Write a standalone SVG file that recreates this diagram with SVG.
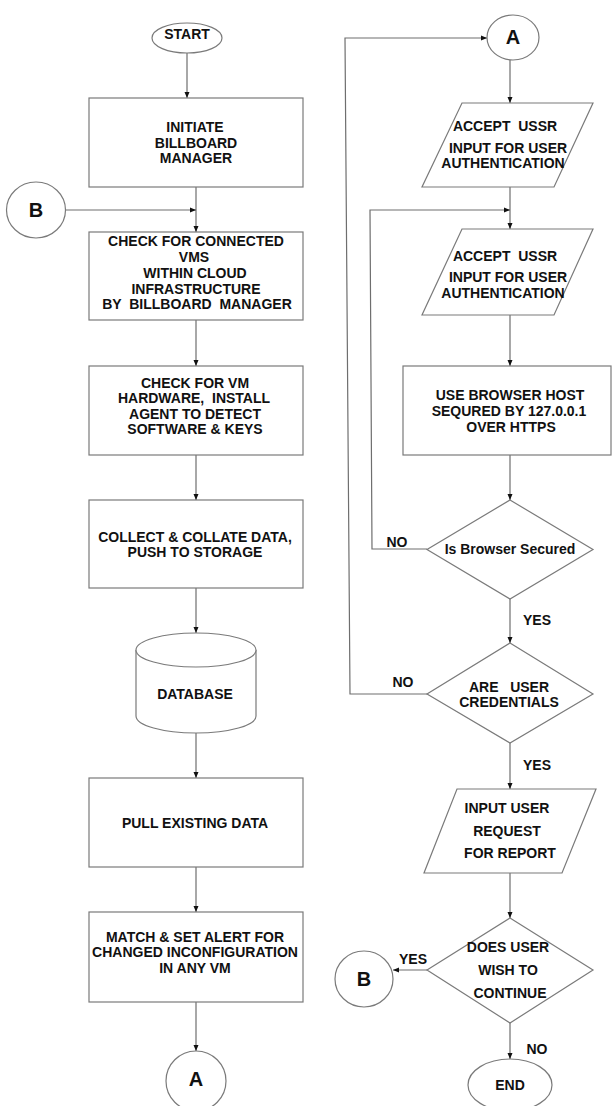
<svg xmlns="http://www.w3.org/2000/svg" width="612" height="1106" viewBox="0 0 612 1106" xml:space="preserve">
  <style>
    .shape { fill: #ffffff; stroke: #7a7a7a; stroke-width: 1.2; }
    .wire { fill: none; stroke: #6e6e6e; stroke-width: 1.2; }
    .t { font-family: "Liberation Sans", Arial, sans-serif; font-weight: bold; font-size: 14px; fill: #111111; text-anchor: middle; white-space: pre; }
    .big { font-size: 20px; }
  </style>
  <defs>
    <marker id="arrow" viewBox="0 0 6 6" refX="6" refY="3" markerWidth="6" markerHeight="6" orient="auto" markerUnits="userSpaceOnUse">
      <path d="M0,0.5 L6,3 L0,5.5 Z" fill="#111111"/>
    </marker>
  </defs>
  <rect width="612" height="1106" fill="#ffffff"/>

  <!-- connectors -->
  <g id="connectors">
    <line class="wire" x1="187" y1="53" x2="187" y2="98" marker-end="url(#arrow)"/>
    <line class="wire" x1="196" y1="187" x2="196" y2="232" marker-end="url(#arrow)"/>
    <line class="wire" x1="66" y1="210" x2="196" y2="210" marker-end="url(#arrow)"/>
    <line class="wire" x1="196" y1="320" x2="196" y2="366" marker-end="url(#arrow)"/>
    <line class="wire" x1="196" y1="455" x2="196" y2="500" marker-end="url(#arrow)"/>
    <line class="wire" x1="196" y1="588" x2="196" y2="633" marker-end="url(#arrow)"/>
    <line class="wire" x1="196" y1="733" x2="196" y2="778" marker-end="url(#arrow)"/>
    <line class="wire" x1="196" y1="867" x2="196" y2="912" marker-end="url(#arrow)"/>
    <line class="wire" x1="196" y1="1002" x2="196" y2="1051" marker-end="url(#arrow)"/>
    <line class="wire" x1="510" y1="60" x2="510" y2="103" marker-end="url(#arrow)"/>
    <line class="wire" x1="510" y1="187" x2="510" y2="229" marker-end="url(#arrow)"/>
    <polyline class="wire" points="427,549 372,549 370,210 510,210" marker-end="url(#arrow)"/>
    <line class="wire" x1="510" y1="315" x2="510" y2="366" marker-end="url(#arrow)"/>
    <line class="wire" x1="510" y1="455" x2="510" y2="500" marker-end="url(#arrow)"/>
    <line class="wire" x1="510" y1="599" x2="510" y2="643" marker-end="url(#arrow)"/>
    <polyline class="wire" points="427,694 350,694 345,38 487,38" marker-end="url(#arrow)"/>
    <line class="wire" x1="510" y1="743" x2="510" y2="789" marker-end="url(#arrow)"/>
    <line class="wire" x1="510" y1="873" x2="510" y2="918" marker-end="url(#arrow)"/>
    <line class="wire" x1="427" y1="970" x2="393" y2="970" marker-end="url(#arrow)"/>
    <line class="wire" x1="510" y1="1023" x2="510" y2="1059" marker-end="url(#arrow)"/>
    <text class="t" x="397" y="547">NO</text>
    <text class="t" x="537" y="625">YES</text>
    <text class="t" x="403" y="687">NO</text>
    <text class="t" x="537" y="770">YES</text>
    <text class="t" x="413" y="964">YES</text>
    <text class="t" x="537" y="1054">NO</text>
  </g>

  <!-- left column -->
  <g id="start">
    <ellipse class="shape" cx="187" cy="38" rx="35" ry="15"/>
    <text class="t" x="187" y="38.5">START</text>
  </g>
  <g id="initiate">
    <rect class="shape" x="89" y="98" width="214" height="89"/>
    <text class="t" x="195" y="132">INITIATE</text>
    <text class="t" x="196" y="148">BILLBOARD</text>
    <text class="t" x="196" y="163">MANAGER</text>
  </g>
  <g id="connector-b-in">
    <ellipse class="shape" cx="36" cy="210" rx="29.5" ry="28"/>
    <text class="t big" x="36" y="217">B</text>
  </g>
  <g id="check-vms">
    <rect class="shape" x="89" y="232" width="214" height="88"/>
    <text class="t" x="196" y="246">CHECK FOR CONNECTED</text>
    <text class="t" x="194" y="262">VMS</text>
    <text class="t" x="195" y="278">WITHIN CLOUD</text>
    <text class="t" x="196" y="294">INFRASTRUCTURE</text>
    <text class="t" x="197" y="309">BY  BILLBOARD  MANAGER</text>
  </g>
  <g id="check-hardware">
    <rect class="shape" x="89" y="366" width="214" height="89"/>
    <text class="t" x="195" y="388">CHECK FOR VM</text>
    <text class="t" x="194" y="403">HARDWARE,  INSTALL</text>
    <text class="t" x="195" y="419">AGENT TO DETECT</text>
    <text class="t" x="195" y="434">SOFTWARE &amp; KEYS</text>
  </g>
  <g id="collect">
    <rect class="shape" x="89" y="500" width="214" height="88"/>
    <text class="t" x="195" y="542">COLLECT &amp; COLLATE DATA,</text>
    <text class="t" x="195" y="557">PUSH TO STORAGE</text>
  </g>
  <g id="database">
    <path class="shape" d="M136,650 L136,716 A60,17 0 0 0 256,716 L256,650 A60,17 0 0 0 136,650 Z"/>
    <path class="shape" d="M136,650 A60,17 0 0 0 256,650" fill="none"/>
    <text class="t" x="195" y="699">DATABASE</text>
  </g>
  <g id="pull">
    <rect class="shape" x="89" y="778" width="214" height="89"/>
    <text class="t" x="195" y="828">PULL EXISTING DATA</text>
  </g>
  <g id="match">
    <rect class="shape" x="89" y="912" width="214" height="90"/>
    <text class="t" x="195" y="942">MATCH &amp; SET ALERT FOR</text>
    <text class="t" x="195" y="957">CHANGED INCONFIGURATION</text>
    <text class="t" x="195" y="973">IN ANY VM</text>
  </g>
  <g id="connector-a-out">
    <ellipse class="shape" cx="196" cy="1081" rx="30" ry="30"/>
    <text class="t big" x="196" y="1086">A</text>
  </g>

  <!-- right column -->
  <g id="connector-a-in">
    <ellipse class="shape" cx="513" cy="37.5" rx="26" ry="22.5"/>
    <text class="t big" x="513" y="44">A</text>
  </g>
  <g id="accept-ussr-1">
    <polygon class="shape" points="462,103 593,103 554,187 422,187"/>
    <text class="t" x="505" y="131">ACCEPT  USSR</text>
    <text class="t" x="508" y="153">INPUT FOR USER</text>
    <text class="t" x="503" y="168">AUTHENTICATION</text>
  </g>
  <g id="accept-ussr-2">
    <polygon class="shape" points="462,229 593,229 554,315 422,315"/>
    <text class="t" x="505" y="261">ACCEPT  USSR</text>
    <text class="t" x="508" y="282">INPUT FOR USER</text>
    <text class="t" x="503" y="298">AUTHENTICATION</text>
  </g>
  <g id="browser-host">
    <rect class="shape" x="403" y="366" width="208" height="89"/>
    <text class="t" x="510" y="400">USE BROWSER HOST</text>
    <text class="t" x="509" y="416">SEQURED BY 127.0.0.1</text>
    <text class="t" x="511" y="432">OVER HTTPS</text>
  </g>
  <g id="browser-secured">
    <polygon class="shape" points="510,500 593,549.5 510,599 427,549.5"/>
    <text class="t" x="510" y="554">Is Browser Secured</text>
  </g>
  <g id="user-credentials">
    <polygon class="shape" points="510,643 593,694 510,743 427,694"/>
    <text class="t" x="509" y="692">ARE   USER</text>
    <text class="t" x="509" y="707">CREDENTIALS</text>
  </g>
  <g id="report-request">
    <polygon class="shape" points="457,789 596,789 562,873 424,873"/>
    <text class="t" x="507" y="813">INPUT USER</text>
    <text class="t" x="507" y="836">REQUEST</text>
    <text class="t" x="510" y="858">FOR REPORT</text>
  </g>
  <g id="continue">
    <polygon class="shape" points="510,918 593,970 510,1023 427,970"/>
    <text class="t" x="508" y="952">DOES USER</text>
    <text class="t" x="508" y="975">WISH TO</text>
    <text class="t" x="510" y="998">CONTINUE</text>
  </g>
  <g id="connector-b-out">
    <ellipse class="shape" cx="364" cy="979" rx="29" ry="28"/>
    <text class="t big" x="364" y="986">B</text>
  </g>
  <g id="end">
    <ellipse class="shape" cx="510" cy="1085" rx="42" ry="26"/>
    <text class="t" x="510" y="1090">END</text>
  </g>
</svg>
